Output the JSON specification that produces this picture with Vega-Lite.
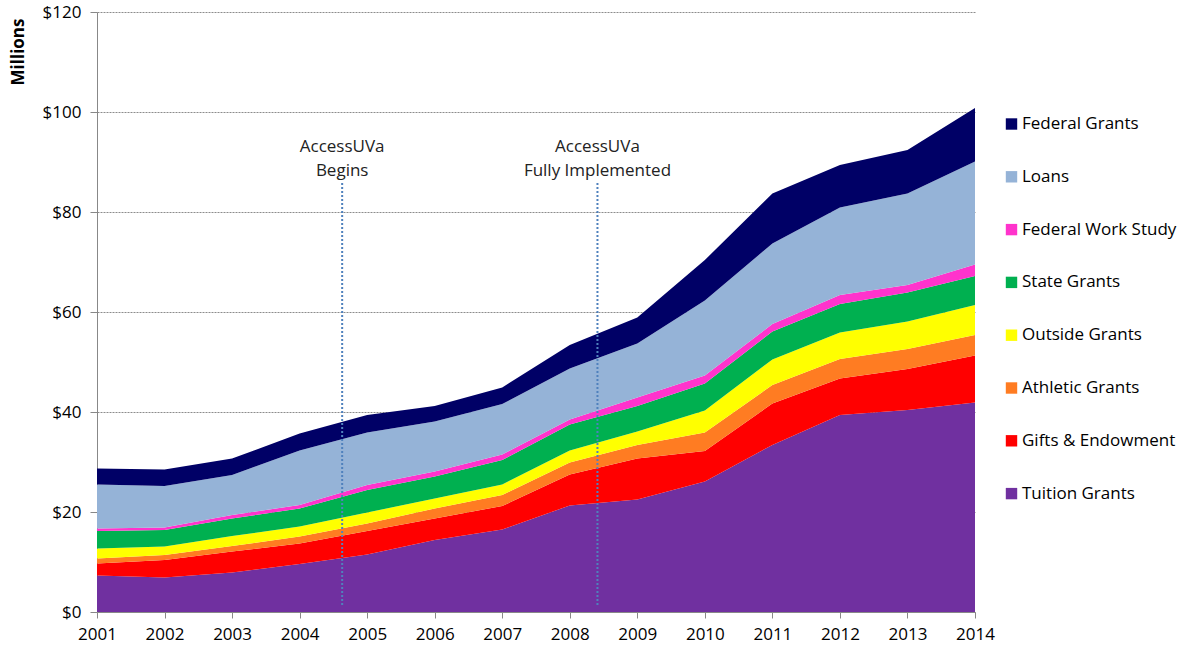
{
  "$schema": "https://vega.github.io/schema/vega-lite/v6.json",
  "autosize": "none",
  "width": 878,
  "height": 600,
  "padding": {"left": 97, "top": 12, "right": 223, "bottom": 38},
  "background": "white",
  "config": {
    "view": {"stroke": null},
    "font": "Open Sans",
    "axis": {"labelFont": "Open Sans", "titleFont": "Open Sans"},
    "legend": {"labelFont": "Open Sans"}
  },
  "datasets": {
    "ranks": [
      {"type": "Tuition Grants", "rank": 1},
      {"type": "Gifts & Endowment", "rank": 2},
      {"type": "Athletic Grants", "rank": 3},
      {"type": "Outside Grants", "rank": 4},
      {"type": "State Grants", "rank": 5},
      {"type": "Federal Work Study", "rank": 6},
      {"type": "Loans", "rank": 7},
      {"type": "Federal Grants", "rank": 8}
    ],
    "aid": [
      {"year": 2001, "type": "Tuition Grants", "value": 7.3},
      {"year": 2001, "type": "Gifts & Endowment", "value": 2.4},
      {"year": 2001, "type": "Athletic Grants", "value": 1.0},
      {"year": 2001, "type": "Outside Grants", "value": 2.0},
      {"year": 2001, "type": "State Grants", "value": 3.5},
      {"year": 2001, "type": "Federal Work Study", "value": 0.5},
      {"year": 2001, "type": "Loans", "value": 8.8},
      {"year": 2001, "type": "Federal Grants", "value": 3.2},
      {"year": 2002, "type": "Tuition Grants", "value": 6.9},
      {"year": 2002, "type": "Gifts & Endowment", "value": 3.5},
      {"year": 2002, "type": "Athletic Grants", "value": 1.0},
      {"year": 2002, "type": "Outside Grants", "value": 1.7},
      {"year": 2002, "type": "State Grants", "value": 3.3},
      {"year": 2002, "type": "Federal Work Study", "value": 0.5},
      {"year": 2002, "type": "Loans", "value": 8.3},
      {"year": 2002, "type": "Federal Grants", "value": 3.3},
      {"year": 2003, "type": "Tuition Grants", "value": 7.9},
      {"year": 2003, "type": "Gifts & Endowment", "value": 4.2},
      {"year": 2003, "type": "Athletic Grants", "value": 1.1},
      {"year": 2003, "type": "Outside Grants", "value": 2.0},
      {"year": 2003, "type": "State Grants", "value": 3.5},
      {"year": 2003, "type": "Federal Work Study", "value": 0.7},
      {"year": 2003, "type": "Loans", "value": 8.0},
      {"year": 2003, "type": "Federal Grants", "value": 3.3},
      {"year": 2004, "type": "Tuition Grants", "value": 9.6},
      {"year": 2004, "type": "Gifts & Endowment", "value": 4.1},
      {"year": 2004, "type": "Athletic Grants", "value": 1.4},
      {"year": 2004, "type": "Outside Grants", "value": 2.0},
      {"year": 2004, "type": "State Grants", "value": 3.6},
      {"year": 2004, "type": "Federal Work Study", "value": 0.7},
      {"year": 2004, "type": "Loans", "value": 10.9},
      {"year": 2004, "type": "Federal Grants", "value": 3.4},
      {"year": 2005, "type": "Tuition Grants", "value": 11.5},
      {"year": 2005, "type": "Gifts & Endowment", "value": 4.7},
      {"year": 2005, "type": "Athletic Grants", "value": 1.5},
      {"year": 2005, "type": "Outside Grants", "value": 2.2},
      {"year": 2005, "type": "State Grants", "value": 4.5},
      {"year": 2005, "type": "Federal Work Study", "value": 1.0},
      {"year": 2005, "type": "Loans", "value": 10.5},
      {"year": 2005, "type": "Federal Grants", "value": 3.5},
      {"year": 2006, "type": "Tuition Grants", "value": 14.4},
      {"year": 2006, "type": "Gifts & Endowment", "value": 4.3},
      {"year": 2006, "type": "Athletic Grants", "value": 2.0},
      {"year": 2006, "type": "Outside Grants", "value": 2.0},
      {"year": 2006, "type": "State Grants", "value": 4.4},
      {"year": 2006, "type": "Federal Work Study", "value": 1.0},
      {"year": 2006, "type": "Loans", "value": 10.0},
      {"year": 2006, "type": "Federal Grants", "value": 3.1},
      {"year": 2007, "type": "Tuition Grants", "value": 16.5},
      {"year": 2007, "type": "Gifts & Endowment", "value": 4.7},
      {"year": 2007, "type": "Athletic Grants", "value": 2.2},
      {"year": 2007, "type": "Outside Grants", "value": 2.1},
      {"year": 2007, "type": "State Grants", "value": 4.9},
      {"year": 2007, "type": "Federal Work Study", "value": 1.1},
      {"year": 2007, "type": "Loans", "value": 10.1},
      {"year": 2007, "type": "Federal Grants", "value": 3.3},
      {"year": 2008, "type": "Tuition Grants", "value": 21.3},
      {"year": 2008, "type": "Gifts & Endowment", "value": 6.2},
      {"year": 2008, "type": "Athletic Grants", "value": 2.4},
      {"year": 2008, "type": "Outside Grants", "value": 2.4},
      {"year": 2008, "type": "State Grants", "value": 5.2},
      {"year": 2008, "type": "Federal Work Study", "value": 1.0},
      {"year": 2008, "type": "Loans", "value": 10.2},
      {"year": 2008, "type": "Federal Grants", "value": 4.7},
      {"year": 2009, "type": "Tuition Grants", "value": 22.5},
      {"year": 2009, "type": "Gifts & Endowment", "value": 8.2},
      {"year": 2009, "type": "Athletic Grants", "value": 2.7},
      {"year": 2009, "type": "Outside Grants", "value": 2.7},
      {"year": 2009, "type": "State Grants", "value": 5.1},
      {"year": 2009, "type": "Federal Work Study", "value": 1.7},
      {"year": 2009, "type": "Loans", "value": 10.8},
      {"year": 2009, "type": "Federal Grants", "value": 5.2},
      {"year": 2010, "type": "Tuition Grants", "value": 26.1},
      {"year": 2010, "type": "Gifts & Endowment", "value": 6.1},
      {"year": 2010, "type": "Athletic Grants", "value": 3.7},
      {"year": 2010, "type": "Outside Grants", "value": 4.4},
      {"year": 2010, "type": "State Grants", "value": 5.4},
      {"year": 2010, "type": "Federal Work Study", "value": 1.6},
      {"year": 2010, "type": "Loans", "value": 15.0},
      {"year": 2010, "type": "Federal Grants", "value": 8.1},
      {"year": 2011, "type": "Tuition Grants", "value": 33.4},
      {"year": 2011, "type": "Gifts & Endowment", "value": 8.3},
      {"year": 2011, "type": "Athletic Grants", "value": 3.7},
      {"year": 2011, "type": "Outside Grants", "value": 5.1},
      {"year": 2011, "type": "State Grants", "value": 5.6},
      {"year": 2011, "type": "Federal Work Study", "value": 1.5},
      {"year": 2011, "type": "Loans", "value": 16.1},
      {"year": 2011, "type": "Federal Grants", "value": 10.0},
      {"year": 2012, "type": "Tuition Grants", "value": 39.4},
      {"year": 2012, "type": "Gifts & Endowment", "value": 7.3},
      {"year": 2012, "type": "Athletic Grants", "value": 3.9},
      {"year": 2012, "type": "Outside Grants", "value": 5.3},
      {"year": 2012, "type": "State Grants", "value": 5.7},
      {"year": 2012, "type": "Federal Work Study", "value": 1.8},
      {"year": 2012, "type": "Loans", "value": 17.5},
      {"year": 2012, "type": "Federal Grants", "value": 8.5},
      {"year": 2013, "type": "Tuition Grants", "value": 40.4},
      {"year": 2013, "type": "Gifts & Endowment", "value": 8.2},
      {"year": 2013, "type": "Athletic Grants", "value": 4.0},
      {"year": 2013, "type": "Outside Grants", "value": 5.5},
      {"year": 2013, "type": "State Grants", "value": 5.8},
      {"year": 2013, "type": "Federal Work Study", "value": 1.5},
      {"year": 2013, "type": "Loans", "value": 18.3},
      {"year": 2013, "type": "Federal Grants", "value": 8.7},
      {"year": 2014, "type": "Tuition Grants", "value": 41.9},
      {"year": 2014, "type": "Gifts & Endowment", "value": 9.4},
      {"year": 2014, "type": "Athletic Grants", "value": 4.1},
      {"year": 2014, "type": "Outside Grants", "value": 6.0},
      {"year": 2014, "type": "State Grants", "value": 5.8},
      {"year": 2014, "type": "Federal Work Study", "value": 2.3},
      {"year": 2014, "type": "Loans", "value": 20.6},
      {"year": 2014, "type": "Federal Grants", "value": 10.7}
    ],
    "notes": [
      {"year": 2004.63, "low": 1.4, "high": 86, "labelY": 94.6, "label": ["AccessUVa", "Begins"]},
      {"year": 2008.41, "low": 1.4, "high": 86, "labelY": 94.6, "label": ["AccessUVa", "Fully Implemented"]}
    ]
  },
  "layer": [
    {
      "data": {"name": "aid"},
      "transform": [
        {"lookup": "type", "from": {"data": {"name": "ranks"}, "key": "type", "fields": ["rank"]}}
      ],
      "mark": {"type": "area", "opacity": 1, "interpolate": "linear"},
      "encoding": {
        "x": {
          "field": "year", "type": "quantitative",
          "scale": {"domain": [2001, 2014], "nice": false, "zero": false},
          "axis": {
            "title": null, "format": "d", "grid": false,
            "values": [2001, 2002, 2003, 2004, 2005, 2006, 2007, 2008, 2009, 2010, 2011, 2012, 2013, 2014],
            "domainColor": "#888888", "tickColor": "#888888", "tickSize": 6,
            "labelFontSize": 17, "labelColor": "#000000", "labelPadding": 8,
            "labelFlush": false, "labelOverlap": false
          }
        },
        "y": {
          "field": "value", "type": "quantitative", "stack": "zero",
          "scale": {"domain": [0, 120], "nice": false},
          "axis": {
            "title": "Millions", "format": "$d",
            "values": [0, 20, 40, 60, 80, 100, 120],
            "grid": true, "gridColor": "#8c8c8c", "gridDash": [2, 1], "gridWidth": 1,
            "domainColor": "#888888", "tickColor": "#888888", "tickSize": 7,
            "labelFontSize": 17, "labelColor": "#000000", "labelPadding": 9,
            "titleFontSize": 17, "titleFontWeight": "bold", "titleColor": "#000000",
            "titleAngle": -90, "titleX": -79, "titleY": 6, "titleAlign": "right", "titleBaseline": "middle"
          }
        },
        "order": {"field": "rank", "type": "quantitative", "sort": "ascending"},
        "color": {
          "field": "type", "type": "nominal",
          "scale": {
            "domain": ["Tuition Grants", "Gifts & Endowment", "Athletic Grants", "Outside Grants", "State Grants", "Federal Work Study", "Loans", "Federal Grants"],
            "range": ["#7030A0", "#FF0000", "#FF7C22", "#FFFF00", "#00B050", "#FF33CC", "#95B3D7", "#000066"]
          },
          "legend": {
            "title": null, "orient": "none", "legendX": 906, "legendY": 103.5,
            "values": ["Federal Grants", "Loans", "Federal Work Study", "State Grants", "Outside Grants", "Athletic Grants", "Gifts & Endowment", "Tuition Grants"],
            "symbolType": "square", "symbolSize": 130, "symbolStrokeWidth": 0,
            "labelFontSize": 17, "labelColor": "#000000", "labelOffset": 2,
            "rowPadding": 34.8, "labelLimit": 300
          }
        }
      }
    },
    {
      "data": {"name": "notes"},
      "mark": {"type": "rule", "color": "#4F81BD", "strokeWidth": 2, "strokeDash": [2, 2]},
      "encoding": {
        "x": {"field": "year", "type": "quantitative"},
        "y": {"field": "low", "type": "quantitative"},
        "y2": {"field": "high"}
      }
    },
    {
      "data": {"name": "notes"},
      "mark": {"type": "text", "fontSize": 17, "color": "#222222", "align": "center", "baseline": "top", "lineHeight": 24},
      "encoding": {
        "x": {"field": "year", "type": "quantitative"},
        "y": {"field": "labelY", "type": "quantitative"},
        "text": {"field": "label"}
      }
    }
  ]
}
